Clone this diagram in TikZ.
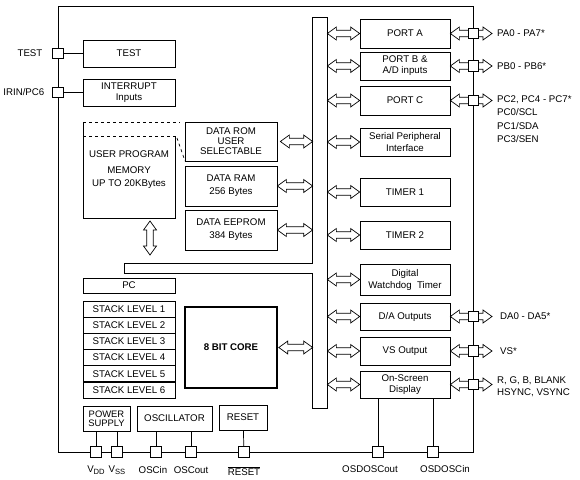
\documentclass[tikz,border=0pt]{standalone}
\usepackage{fontspec}
\setmainfont{Liberation Sans}
\usetikzlibrary{calc,positioning}

\newcommand{\lowsub}[1]{\raisebox{-1.6pt}{\fontsize{7.6}{8}\selectfont #1}}

\begin{document}
\begin{tikzpicture}[x=1pt,y=-1pt,line width=0.7pt,
  font=\fontsize{9.7}{11}\selectfont,
  blk/.style={draw,inner sep=1pt,align=center},
  lbox/.style={blk,minimum width=92pt},
  rbox/.style={blk,minimum width=90pt},
  pinsq/.style={draw,fill=white,minimum size=10.5pt,inner sep=0pt},
  harr/.style={to path={let \p1=(\tikztostart),\p2=(\tikztotarget) in
    (\x1,\y1) -- (\x1+9pt,\y1+6.5pt) -- (\x1+9pt,\y1+3.2pt) -- (\x2-9pt,\y1+3.2pt)
    -- (\x2-9pt,\y1+6.5pt) -- (\x2,\y1) -- (\x2-9pt,\y1-6.5pt) -- (\x2-9pt,\y1-3.2pt)
    -- (\x1+9pt,\y1-3.2pt) -- (\x1+9pt,\y1-6.5pt) -- cycle}},
  varr/.style={to path={let \p1=(\tikztostart),\p2=(\tikztotarget) in
    (\x1,\y1) -- (\x1+6.5pt,\y1-9pt) -- (\x1+3.2pt,\y1-9pt) -- (\x1+3.2pt,\y2+9pt)
    -- (\x1+6.5pt,\y2+9pt) -- (\x1,\y2) -- (\x1-6.5pt,\y2+9pt) -- (\x1-3.2pt,\y2+9pt)
    -- (\x1-3.2pt,\y1-9pt) -- (\x1-6.5pt,\y1-9pt) -- cycle}}]

\useasboundingbox (0,0) rectangle (580,479);

% chip outline
\node[draw,minimum width=415pt,minimum height=446pt,inner sep=0pt] (chip) at (265.5,229) {};

% left column
\node[lbox,minimum height=27pt] (test) at (129,53.5) {TEST};
\node[lbox,minimum height=27pt] (intr) at (129,92.5) {INTERRUPT\\Inputs};

\draw[dashed] (83,122) -- (180,122);
\draw[dashed] (83,136) -- (175,136);
\draw (83,122) -- (83,218) -- (175,218) -- (175,136);
\draw[dashed] (177,138) -- (185,161);
\node[align=center] (mem) at (129,170) {USER PROGRAM\\[5pt]MEMORY\\[2pt]UP TO 20KBytes};

\node[lbox,minimum height=39pt] (rom) at (231,141.5) {DATA ROM\\[-1pt]USER\\[-1pt]SELECTABLE};
\node[lbox,minimum height=40pt] (ram) at (231,186) {DATA RAM\\[2pt]256 Bytes};
\node[lbox,minimum height=40pt] (eep) at (231,230) {DATA EEPROM\\[2pt]384 Bytes};

\node[lbox,minimum height=15pt] (pc) at (129,285.5) {PC};
\node[lbox,minimum height=16.17pt] (st1) at (129,309.1) {STACK LEVEL 1};
\node[lbox,minimum height=16.17pt] (st2) at (129,325.2) {STACK LEVEL 2};
\node[lbox,minimum height=16.17pt] (st3) at (129,341.4) {STACK LEVEL 3};
\node[lbox,minimum height=16.17pt] (st4) at (129,357.6) {STACK LEVEL 4};
\node[lbox,minimum height=16.17pt] (st5) at (129,373.8) {STACK LEVEL 5};
\node[lbox,minimum height=16.17pt] (st6) at (129,389.9) {STACK LEVEL 6};

\node[lbox,minimum height=81pt,line width=1.6pt,font=\fontsize{9.7}{11}\selectfont\bfseries] (core) at (231,347.5) {8 BIT CORE};

\node[blk,minimum width=47pt,minimum height=25pt,font=\fontsize{9.4}{8.6}\selectfont] (pwr) at (106.5,418.5) {POWER\\SUPPLY};
\node[blk,minimum width=75pt,minimum height=25pt] (osc) at (174.5,418.5) {OSCILLATOR};
\node[blk,minimum width=48pt,minimum height=25pt] (rst) at (243,417.5) {RESET};

% internal bus
\node[minimum width=14pt,minimum height=390pt,inner sep=0pt] (bus) at (320,213) {};
\coordinate (hbt) at (124,263);
\coordinate (hbb) at (124,273);
\draw (bus.west |- hbt) -- (bus.north west) -- (bus.north east) -- (bus.south east)
  -- (bus.south west) -- (bus.west |- hbb) -- (hbb) -- (hbt) -- cycle;

% right column
\node[rbox,minimum height=29pt] (pa) at (405,33.5) {PORT A};
\node[rbox,minimum height=28pt] (pb) at (405,66) {PORT B \&\\A/D inputs};
\node[rbox,minimum height=29pt] (pcx) at (405,100.5) {PORT C};
\node[rbox,minimum height=28pt] (spi) at (405,142) {Serial Peripheral\\[1pt]Interface};
\node[rbox,minimum height=28pt] (tm1) at (405,192) {TIMER 1};
\node[rbox,minimum height=28pt] (tm2) at (405,235) {TIMER 2};
\node[rbox,minimum height=31pt] (wdt) at (405,279.5) {Digital\\[1pt]Watchdog\ \ Timer};
\node[rbox,minimum height=27pt] (dac) at (405,316.5) {D/A Outputs};
\node[rbox,minimum height=28pt] (vso) at (405,351) {VS Output};
\node[rbox,minimum height=27pt] (osd) at (405,384.5) {On-Screen\\Display};

% bus arrows
\coordinate (va1) at (150,221);
\coordinate (va2) at (150,255);
\draw[varr] (va1) to (va2);
\draw[harr] ([xshift=3pt]rom.east) to (rom.east -| bus.west);
\draw[harr] (ram.east) to (ram.east -| bus.west);
\draw[harr] (eep.east) to (eep.east -| bus.west);
\draw[harr] ([xshift=1pt]core.east) to (core.east -| bus.west);
\draw[harr] (pa.west -| bus.east) to (pa.west);
\draw[harr] (pb.west -| bus.east) to (pb.west);
\draw[harr] (pcx.west -| bus.east) to (pcx.west);
\draw[harr] (spi.west -| bus.east) to (spi.west);
\draw[harr] (tm1.west -| bus.east) to (tm1.west);
\draw[harr] (tm2.west -| bus.east) to (tm2.west);
\draw[harr] (wdt.west -| bus.east) to (wdt.west);
\draw[harr] (dac.west -| bus.east) to (dac.west);
\draw[harr] (vso.west -| bus.east) to (vso.west);
\draw[harr] (osd.west -| bus.east) to (osd.west);

% outputs
\coordinate (outx) at (492,0);
\draw[harr] (pa.east) to (pa.east -| outx);
\draw[harr] (pb.east) to (pb.east -| outx);
\draw[harr] (pcx.east) to (pcx.east -| outx);
\draw[harr] (dac.east) to (dac.east -| outx);
\draw[harr] (vso.east) to (vso.east -| outx);
\draw[harr] (osd.east) to (osd.east -| outx);
\node[pinsq] (ppa) at (pa.east -| chip.east) {};
\node[pinsq] (ppb) at (pb.east -| chip.east) {};
\node[pinsq] (ppc) at (pcx.east -| chip.east) {};
\node[pinsq] (pda) at (dac.east -| chip.east) {};
\node[pinsq] (pvs) at (vso.east -| chip.east) {};
\node[pinsq] (posd) at (osd.east -| chip.east) {};

\node[anchor=west] (lblA) at (493.5,33.5) {PA0 - PA7*};
\node[anchor=west] (lblB) at (493.5,66) {PB0 - PB6*};
\node[anchor=north west,align=left,font=\fontsize{9.7}{13.3}\selectfont] (lblC) at (493.5,92) {PC2, PC4 - PC7*\\PC0/SCL\\PC1/SDA\\PC3/SEN};
\node[anchor=west] (lblD) at (496.5,316.5) {DA0 - DA5*};
\node[anchor=west] (lblV) at (496.5,351) {VS*};
\node[anchor=north west,align=left,font=\fontsize{9.7}{12}\selectfont] (lblO) at (493.5,373) {R, G, B, BLANK\\HSYNC, VSYNC};

% left pins
\node[pinsq] (ptest) at (test.west -| chip.west) {};
\node[pinsq] (pirq) at (intr.west -| chip.west) {};
\draw (ptest) -- (test);
\draw (pirq) -- (intr);
\node[left=6pt of ptest] {TEST};
\node[left=4pt of pirq] {IRIN/PC6};

% bottom pins
\node[pinsq] (pvdd) at (96,452) {};
\node[pinsq] (pvss) at (117,452) {};
\node[pinsq] (poscin) at (156,452) {};
\node[pinsq] (poscout) at (191,452) {};
\node[pinsq] (prst) at (244,452) {};
\node[pinsq] (posdo) at (378,452) {};
\node[pinsq] (posdi) at (433,452) {};
\draw (pvdd) -- (pvdd |- pwr.south);
\draw (pvss) -- (pvss |- pwr.south);
\draw (poscin) -- (poscin |- osc.south);
\draw (poscout) -- (poscout |- osc.south);
\draw (prst) -- (rst);
\draw (posdo) -- (posdo |- osd.south);
\draw (posdi) -- (posdi |- osd.south);

\node[below=5pt of pvdd] {V\lowsub{DD}};
\node[below=5pt of pvss] {V\lowsub{SS}};
\node[below=5pt of poscin,xshift=-3pt] {OSCin};
\node[below=5pt of poscout] {OSCout};
\node[below=5pt of prst] {$\overline{\mbox{RESET}}$};
\node[below=4pt of posdo,xshift=-8pt] {OSDOSCout};
\node[below=4pt of posdi,xshift=12pt] {OSDOSCin};
\end{tikzpicture}
\end{document}
